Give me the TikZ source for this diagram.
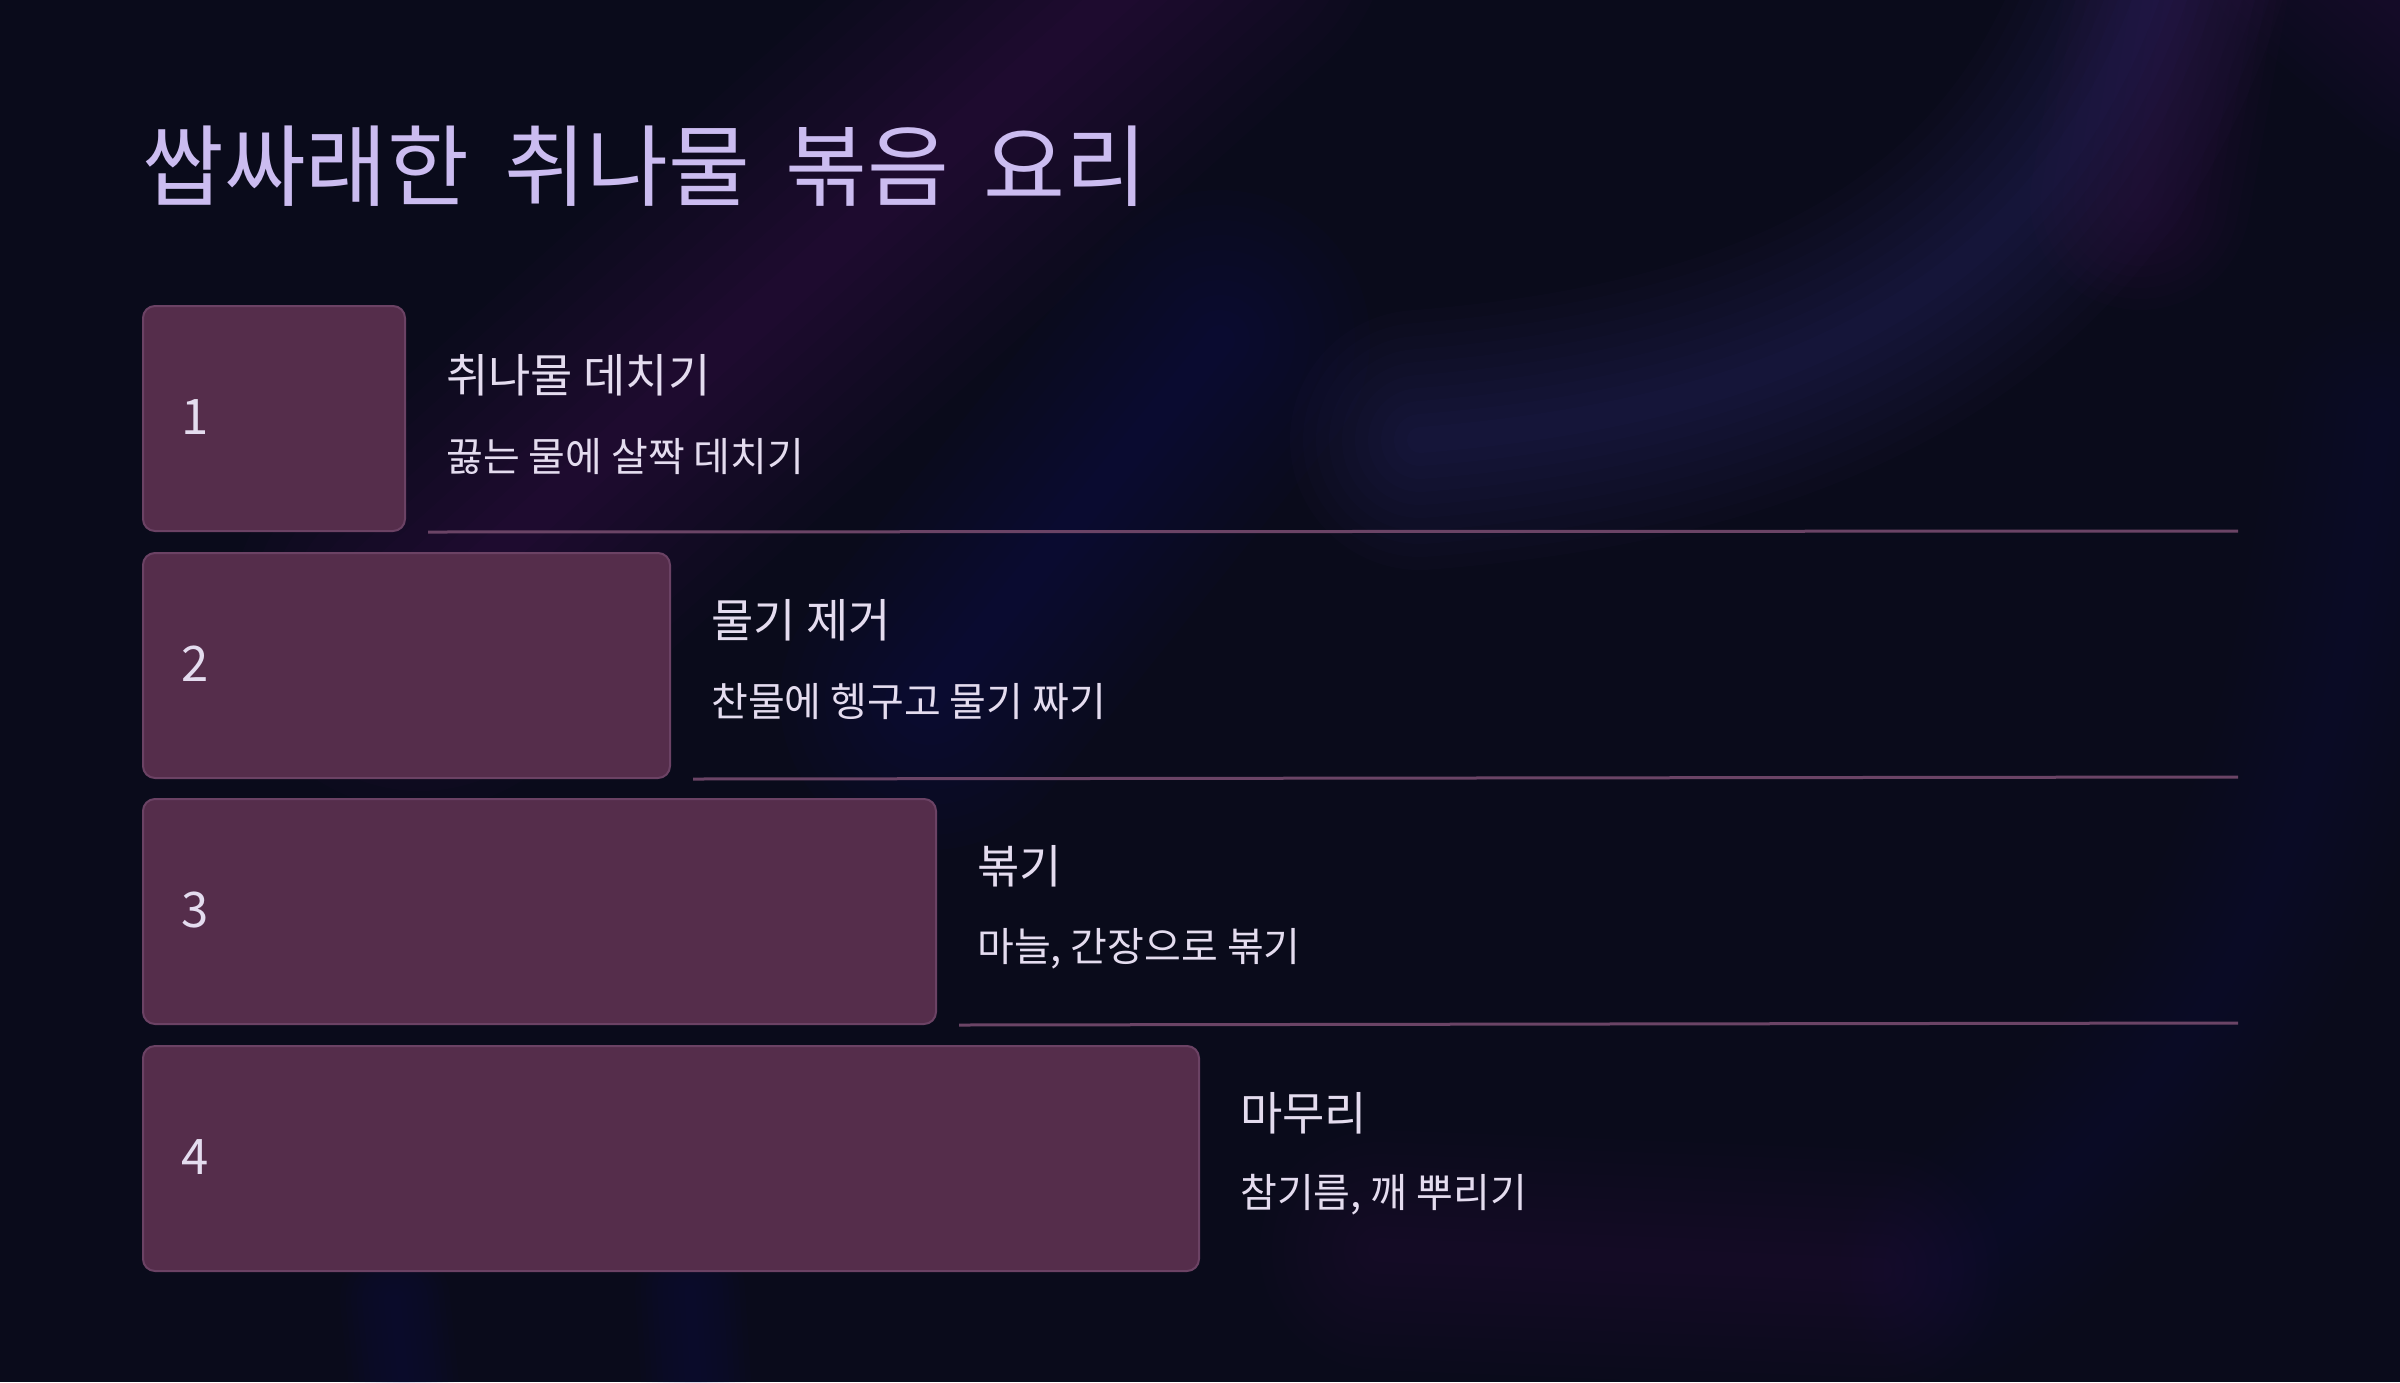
\documentclass[tikz,border=0pt]{standalone}
\usepackage{fontspec}
\setmainfont{Noto Sans CJK KR}
\newfontfamily\titlefont[WordSpace=1.75]{Noto Sans CJK KR}
\definecolor{bg}{HTML}{0A0B1B}
\definecolor{boxfill}{HTML}{552D4B}
\definecolor{boxline}{HTML}{6B4264}
\definecolor{sepline}{HTML}{6B4466}
\definecolor{titlecol}{HTML}{CBBCF0}
\definecolor{textcol}{HTML}{E4DCEF}
\definecolor{glowpurple}{HTML}{5E2A72}
\definecolor{glowblue}{HTML}{2A2C8A}
\definecolor{glowviolet}{HTML}{4A3A9A}
\newcommand\softband[4]{\foreach \k in {1,...,10}{\draw[#1,line width=#2*\k/10,opacity=#3,line cap=round] #4;}}
\tikzset{
  stepbox/.style={draw=boxline, line width=2pt, fill=boxfill, rounded corners=12pt, anchor=north west, minimum height=225pt, inner sep=0pt},
  numtext/.style={text=textcol, font=\fontsize{49}{56}\selectfont, anchor=west, inner sep=0pt},
  headtext/.style={text=textcol, font=\fontsize{46}{54}\selectfont, anchor=west, inner sep=0pt},
  desctext/.style={text=textcol, font=\fontsize{40}{48}\selectfont, anchor=west, inner sep=0pt},
  titletext/.style={text=titlecol, font=\titlefont\fontsize{89}{106}\selectfont, anchor=west, inner sep=0pt},
  sep/.style={draw=sepline, line width=3pt}
}
\begin{document}
\begin{tikzpicture}[x=1pt,y=-1pt]
\useasboundingbox (0,0) rectangle (2400,1382);
\fill[bg] (0,0) rectangle (2400,1382);
\begin{scope}
\clip (0,0) rectangle (2400,1382);
% background glows
\softband{glowpurple}{380}{0.03}{(1200,-80) -- (420,620)}
\softband{glowblue}{300}{0.028}{(930,700) -- (1220,340)}
\softband{glowviolet}{260}{0.03}{(1420,440) .. controls (1800,410) and (2080,280) .. (2170,-80)}
\softband{glowpurple}{220}{0.028}{(2140,200) -- (2190,-80)}
\softband{glowpurple}{240}{0.022}{(2320,-60) -- (2440,40)}
\softband{glowblue}{220}{0.016}{(2380,420) .. controls (2340,800) and (2250,1050) .. (1950,1270)}
\softband{glowpurple}{240}{0.018}{(1380,1250) -- (1880,1270)}
\softband{glowblue}{110}{0.018}{(395,1300) -- (410,1440)}
\softband{glowblue}{110}{0.018}{(690,1290) -- (700,1440)}
\end{scope}
% title
\node[titletext] (title) at (142,166) {쌉싸래한 취나물 볶음 요리};
% boxes
\node[stepbox, minimum width=262pt] (b1) at (142,305) {};
\node[stepbox, minimum width=527pt] (b2) at (142,552) {};
\node[stepbox, minimum width=793pt] (b3) at (142,798) {};
\node[stepbox, minimum width=1056pt] (b4) at (142,1045) {};
% numbers
\node[numtext] (n1) at (181,417) {1};
\node[numtext] (n2) at (181,664) {2};
\node[numtext] (n3) at (181,910) {3};
\node[numtext] (n4) at (181,1157) {4};
% headings and descriptions
\node[headtext] (h1) at (446,375) {취나물 데치기};
\node[desctext] (d1) at (446,457) {끓는 물에 살짝 데치기};
\node[headtext] (h2) at (711,620) {물기 제거};
\node[desctext] (d2) at (711,702) {찬물에 헹구고 물기 짜기};
\node[headtext] (h3) at (977,866) {볶기};
\node[desctext] (d3) at (977,949) {마늘, 간장으로 볶기};
\node[headtext] (h4) at (1240,1113) {마무리};
\node[desctext] (d4) at (1240,1195) {참기름, 깨 뿌리기};
% separator lines
\coordinate (e1) at (2238,531);
\coordinate (e2) at (2238,777);
\coordinate (e3) at (2238,1023);
\draw[sep] ([xshift=22pt]b1.south east) -- (e1);
\draw[sep] ([xshift=22pt]b2.south east) -- (e2);
\draw[sep] ([xshift=22pt]b3.south east) -- (e3);
\end{tikzpicture}
\end{document}
